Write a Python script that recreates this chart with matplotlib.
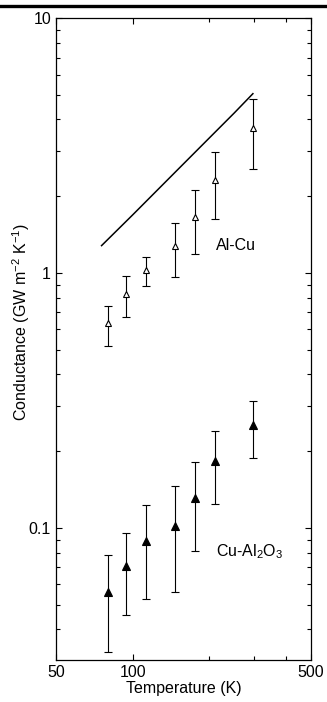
import numpy as np
import matplotlib
matplotlib.use("Agg")
import matplotlib.pyplot as plt
from matplotlib.ticker import FixedLocator, FixedFormatter, LogLocator, NullFormatter
from matplotlib.lines import Line2D

plt.rcParams['font.family'] = ['Liberation Sans', 'DejaVu Sans']
plt.rcParams['mathtext.fontset'] = 'custom'
plt.rcParams['mathtext.rm'] = 'Liberation Sans'
plt.rcParams['mathtext.it'] = 'Liberation Sans:italic'

# ---- data ----
T = [80, 94, 113, 146, 175, 211, 297]

# Al-Cu (open triangles)
alcu = [0.635, 0.825, 1.03, 1.28, 1.66, 2.31, 3.69]
alcu_hi = [0.742, 0.976, 1.158, 1.575, 2.11, 2.98, 4.83]
alcu_lo = [0.519, 0.672, 0.892, 0.967, 1.19, 1.63, 2.55]

# Cu-Al2O3 (filled triangles)
cual = [0.056, 0.071, 0.0884, 0.1018, 0.1315, 0.183, 0.2535]
cual_hi = [0.0784, 0.0956, 0.1228, 0.1457, 0.1815, 0.240, 0.315]
cual_lo = [0.0327, 0.0457, 0.0525, 0.0558, 0.0808, 0.124, 0.1886]

# prediction line
T_line = [75.5, 100, 150, 200, 250, 296]
G_line = [1.28, 1.69, 2.54, 3.39, 4.24, 5.05]

FS = 11.5

fig = plt.figure(figsize=(3.27, 7.02), dpi=100)
ax = fig.add_axes([0.171, 0.0598, 0.780, 0.9145])

# black rule across the top of the page
fig.add_artist(Line2D([0, 1], [1 - 5.5 / 702, 1 - 5.5 / 702], color='black', lw=2.4,
                      transform=fig.transFigure))

ax.plot(T_line, G_line, color='black', lw=1.1)

def err(v, hi, lo):
    v = np.array(v); return [v - np.array(lo), np.array(hi) - v]

ax.errorbar(T, alcu, yerr=err(alcu, alcu_hi, alcu_lo), fmt='^', color='black',
            mfc='white', mec='black', ms=5, mew=0.8, ecolor='black', elinewidth=0.8,
            capsize=2.6, capthick=0.8)
ax.errorbar(T, cual, yerr=err(cual, cual_hi, cual_lo), fmt='^', color='black',
            mfc='black', mec='black', ms=5.5, mew=0.8, ecolor='black', elinewidth=0.8,
            capsize=2.6, capthick=0.8)

ax.set_xscale('log')
ax.set_yscale('log')
ax.set_xlim(50, 500)
ax.set_ylim(0.0303, 10)

ax.xaxis.set_major_locator(FixedLocator([50, 100, 500]))
ax.xaxis.set_major_formatter(FixedFormatter(['50', '100', '500']))
ax.xaxis.set_minor_locator(FixedLocator([200, 300, 400]))
ax.xaxis.set_minor_formatter(NullFormatter())

ax.yaxis.set_major_locator(FixedLocator([0.1, 1, 10]))
ax.yaxis.set_major_formatter(FixedFormatter(['0.1', '1', '10']))
ax.yaxis.set_minor_locator(LogLocator(base=10, subs=np.arange(2, 10)))
ax.yaxis.set_minor_formatter(NullFormatter())

ax.tick_params(which='both', direction='in', top=True, right=True, width=0.8,
               labelsize=FS, pad=3.5)
ax.tick_params(which='major', length=4.5)
ax.tick_params(which='minor', length=3)
for s in ax.spines.values():
    s.set_linewidth(0.9)

ax.set_xlabel('Temperature (K)', fontsize=FS, labelpad=1)
ax.set_ylabel(r'Conductance (GW m$^{-2}$ K$^{-1}$)', fontsize=FS)
ax.yaxis.set_label_coords(-0.095, 0.526)

ax.text(213, 1.28, 'Al-Cu', fontsize=FS, va='center', ha='left')
ax.text(213, 0.081, r'Cu-Al$_2$O$_3$', fontsize=FS, va='center', ha='left')

fig.savefig('out.png', dpi=100)
